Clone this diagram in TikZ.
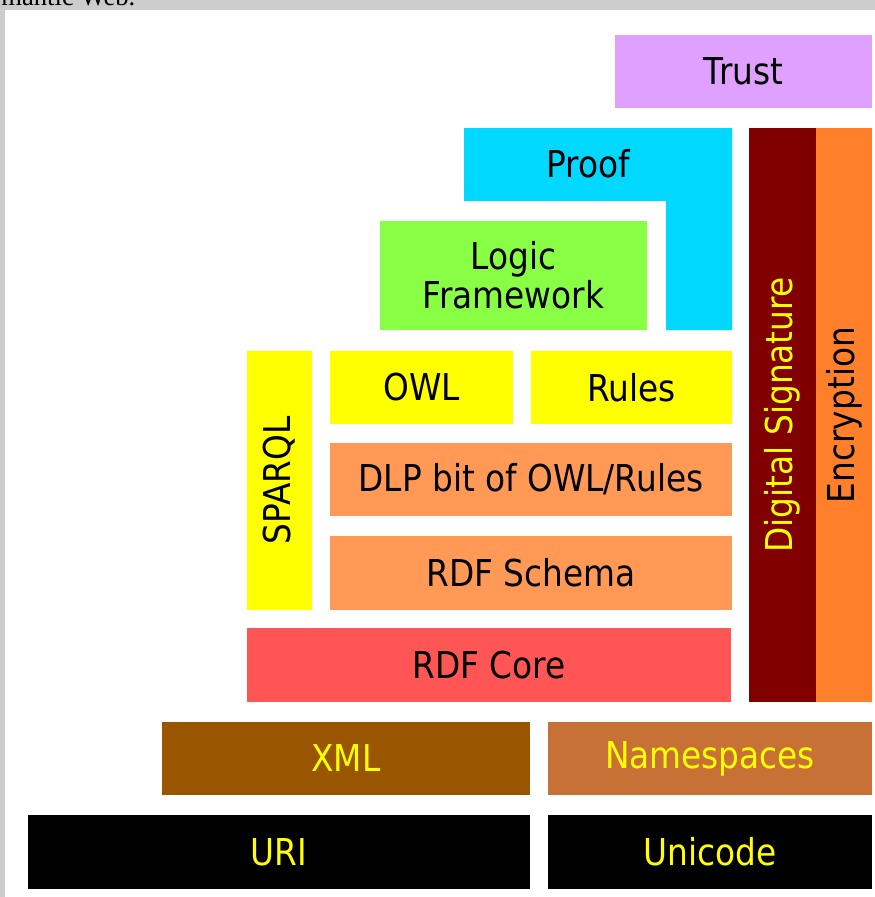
\documentclass[tikz,border=0pt]{standalone}
\usepackage{fontspec}
\setmainfont{DejaVu Sans}[FakeStretch=0.886]
\newfontfamily\captionserif{Liberation Serif}
\usepackage{tikz}
\definecolor{framegray}{HTML}{CCCCCC}
\definecolor{trustc}{HTML}{E0A0FF}
\definecolor{proofc}{HTML}{00D8FF}
\definecolor{logicc}{HTML}{88FF44}
\definecolor{owlc}{HTML}{FFFF00}
\definecolor{schemac}{HTML}{FF9955}
\definecolor{corec}{HTML}{FF5555}
\definecolor{sigc}{HTML}{800000}
\definecolor{cryptc}{HTML}{FF7F2A}
\definecolor{xmlc}{HTML}{995500}
\definecolor{nsc}{HTML}{C87137}
\definecolor{textyellow}{HTML}{FFFF00}

\begin{document}
\begin{tikzpicture}[
    x=0.75pt, y=-0.75pt,
    layer/.style={inner sep=0pt, align=center, font=\fontsize{27.75pt}{29.5pt}\selectfont},
    wh/.style 2 args={minimum width=#1*0.75pt, minimum height=#2*0.75pt},
    lighttxt/.style={text=textyellow}
]
    % frame and cut-off caption
    \useasboundingbox (0,0) rectangle (875,897);
    \fill[framegray] (0,0) rectangle (875,897);
    \fill[white] (5,10) rectangle (875,897);
    \begin{scope}
        \clip (0,0) rectangle (875,10);
        \node[anchor=base west, inner sep=0pt, font=\captionserif\fontsize{20pt}{24pt}\selectfont] (caption) at (1,5) {mantic Web.};
    \end{scope}

    % upper layers
    \node[layer, fill=trustc, wh={257}{73}] (trust) at (743.5,71.5) {Trust};
    \fill[proofc] (464,128) -| (732,330) -| (666,201) -| cycle;
    \node[layer] (proof) at (588,164) {Proof};
    \node[layer, fill=logicc, wh={267}{109}] (logic) at (513.5,275.5) {Logic\\Framework};

    % ontology and query layers
    \node[layer, fill=owlc, wh={259}{65}, rotate=90] (sparql) at (279.5,480.5) {SPARQL};
    \node[layer, fill=owlc, wh={183}{73}] (owl) at (421.5,387.5) {OWL};
    \node[layer, fill=owlc, wh={201}{73}] (rules) at (631.5,387.5) {Rules};
    \node[layer, fill=schemac, wh={402}{73}] (dlp) at (531,479.5) {DLP bit of OWL/Rules};
    \node[layer, fill=schemac, wh={402}{74}] (rdfs) at (531,573) {RDF Schema};
    \node[layer, fill=corec, wh={484}{74}] (rdfcore) at (489,665) {RDF Core};

    % vertical security columns
    \node[layer, fill=sigc, lighttxt, wh={574}{67}, rotate=90] (digsig) at (782.5,415) {Digital Signature};
    \node[layer, fill=cryptc, wh={574}{56}, rotate=90] (crypt) at (844,415) {Encryption};

    % base layers
    \node[layer, fill=xmlc, lighttxt, wh={368}{73}] (xml) at (346,758.5) {XML};
    \node[layer, fill=nsc, lighttxt, wh={324}{73}] (ns) at (710,758.5) {Namespaces};
    \node[layer, fill=black, lighttxt, wh={502}{74}] (uri) at (279,852) {URI};
    \node[layer, fill=black, lighttxt, wh={324}{74}] (unicode) at (710,852) {Unicode};
\end{tikzpicture}
\end{document}
